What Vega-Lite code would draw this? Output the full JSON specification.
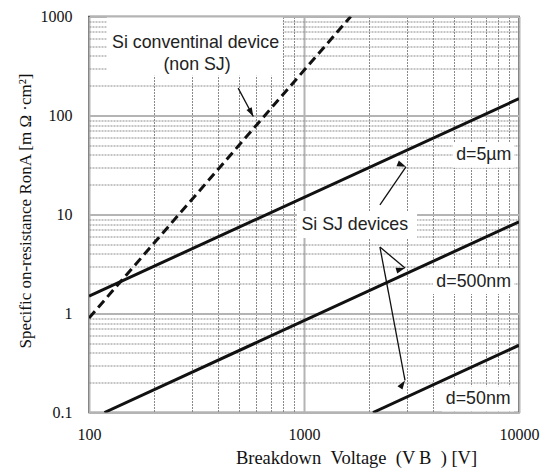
{
  "$schema": "https://vega.github.io/schema/vega-lite/v6.json",
  "width": 430,
  "height": 396,
  "autosize": "none",
  "padding": {"left": 89, "top": 16.5, "right": 23, "bottom": 58.5},
  "background": "#ffffff",
  "config": {
    "view": {"stroke": "#222222", "strokeWidth": 1.5},
    "axis": {
      "labelFont": "Liberation Serif",
      "labelFontSize": 16,
      "labelColor": "#111111",
      "titleFont": "Liberation Serif",
      "titleFontSize": 17,
      "titleFontWeight": "normal",
      "titleColor": "#111111",
      "domain": false,
      "ticks": false,
      "labelOverlap": false,
      "labelFlush": false,
      "gridColor": {"condition": {"test": "abs(log(datum.value)/LN10 - round(log(datum.value)/LN10)) < 1e-6", "value": "#b4b4b4"}, "value": "#8a8a8a"},
      "gridWidth": {"condition": {"test": "abs(log(datum.value)/LN10 - round(log(datum.value)/LN10)) < 1e-6", "value": 2}, "value": 1},
      "gridDash": {"condition": {"test": "abs(log(datum.value)/LN10 - round(log(datum.value)/LN10)) < 1e-6", "value": []}, "value": [2, 1]}
    }
  },
  "datasets": {
    "curves": [
      {"series": "non SJ", "V": 100, "R": 0.9},
      {"series": "non SJ", "V": 1650, "R": 1000},
      {"series": "5um", "V": 100, "R": 1.5},
      {"series": "5um", "V": 10000, "R": 148},
      {"series": "500nm", "V": 118, "R": 0.1},
      {"series": "500nm", "V": 10000, "R": 8.45},
      {"series": "50nm", "V": 2094, "R": 0.1},
      {"series": "50nm", "V": 10000, "R": 0.478}
    ],
    "boxes": [
      {"V1": 121, "V2": 798, "R1": 252, "R2": 975},
      {"V1": 4930, "V2": 9480, "R1": 29.6, "R2": 52.9},
      {"V1": 3980, "V2": 9480, "R1": 1.57, "R2": 2.81},
      {"V1": 4385, "V2": 9480, "R1": 0.1026, "R2": 0.184},
      {"V1": 927, "V2": 3356, "R1": 5.78, "R2": 10.85}
    ],
    "labels": [
      {"text": "Si conventinal device", "V": 313, "R": 544},
      {"text": "(non SJ)", "V": 318, "R": 326},
      {"text": "d=5µm", "V": 6855, "R": 40},
      {"text": "d=500nm", "V": 6155, "R": 2.09},
      {"text": "d=50nm", "V": 6460, "R": 0.138},
      {"text": "Si SJ devices", "V": 1722, "R": 7.83}
    ],
    "arrows": [
      {"id": "A", "V1": 494, "R1": 189, "V2": 581, "R2": 97.7},
      {"id": "B", "V1": 2255, "R1": 12.5, "V2": 2980, "R2": 30.3},
      {"id": "C", "V1": 2255, "R1": 4.69, "V2": 2950, "R2": 2.88},
      {"id": "D", "V1": 2255, "R1": 4.69, "V2": 2950, "R2": 0.211}
    ]
  },
  "layer": [
    {
      "data": {"name": "boxes"},
      "mark": {"type": "rect", "fill": "#ffffff", "stroke": null},
      "encoding": {
        "x": {
          "field": "V1", "type": "quantitative",
          "scale": {"type": "log", "domain": [100, 10000], "nice": false},
          "axis": {
            "values": [100, 200, 300, 400, 500, 600, 700, 800, 900, 1000, 2000, 3000, 4000, 5000, 6000, 7000, 8000, 9000, 10000],
            "labelExpr": "abs(log(datum.value)/LN10 - round(log(datum.value)/LN10)) < 1e-6 ? format(datum.value, '~g') : ''",
            "labelPadding": 14,
            "title": "Breakdown\u2002Voltage\u2002(V\u2009B\u2002) [V]",
            "titleFontSize": 18.5,
            "titleX": 267,
            "titleY": 45,
            "titleBaseline": "middle",
            "titleAlign": "center",
            "titleAnchor": null
          }
        },
        "x2": {"field": "V2"},
        "y": {
          "field": "R1", "type": "quantitative",
          "scale": {"type": "log", "domain": [0.1, 1000], "nice": false},
          "axis": {
            "values": [0.1, 0.2, 0.3, 0.4, 0.5, 0.6, 0.7, 0.8, 0.9, 1, 2, 3, 4, 5, 6, 7, 8, 9, 10, 20, 30, 40, 50, 60, 70, 80, 90, 100, 200, 300, 400, 500, 600, 700, 800, 900, 1000],
            "labelExpr": "abs(log(datum.value)/LN10 - round(log(datum.value)/LN10)) < 1e-6 ? format(datum.value, '~g') : ''",
            "labelPadding": 17,
            "title": "Specific on-resistance RonA [m Ω ·cm²]",
            "titleX": -64,
            "titleY": 194,
            "titleAngle": -90,
            "titleBaseline": "middle",
            "titleAlign": "center",
            "titleAnchor": null
          }
        },
        "y2": {"field": "R2"}
      }
    },
    {
      "data": {"name": "curves"},
      "transform": [{"filter": "datum.series != 'non SJ'"}],
      "mark": {"type": "line", "color": "#111111", "strokeWidth": 3, "clip": true},
      "encoding": {
        "x": {"field": "V", "type": "quantitative"},
        "y": {"field": "R", "type": "quantitative"},
        "detail": {"field": "series"}
      }
    },
    {
      "data": {"name": "curves"},
      "transform": [{"filter": "datum.series == 'non SJ'"}],
      "mark": {"type": "line", "color": "#111111", "strokeWidth": 3, "strokeDash": [9, 5], "clip": true},
      "encoding": {
        "x": {"field": "V", "type": "quantitative"},
        "y": {"field": "R", "type": "quantitative"}
      }
    },
    {
      "data": {"name": "arrows"},
      "mark": {"type": "rule", "color": "#111111", "strokeWidth": 1.3},
      "encoding": {
        "x": {"field": "V1", "type": "quantitative"},
        "y": {"field": "R1", "type": "quantitative"},
        "x2": {"field": "V2"},
        "y2": {"field": "R2"}
      }
    },
    {
      "data": {"name": "arrows"},
      "mark": {"type": "point", "filled": true, "color": "#111111", "opacity": 1, "size": 100, "shape": "M0,0L0.6,1.8L-0.6,1.8Z"},
      "encoding": {
        "x": {"field": "V2", "type": "quantitative"},
        "y": {"field": "R2", "type": "quantitative"},
        "angle": {"field": "id", "type": "nominal", "scale": {"domain": ["A", "B", "C", "D"], "range": [152, 34, 130, 169]}, "legend": null}
      }
    },
    {
      "data": {"name": "labels"},
      "mark": {"type": "text", "font": "Liberation Sans", "fontSize": 17.8, "color": "#222222", "align": "center", "baseline": "middle"},
      "encoding": {
        "x": {"field": "V", "type": "quantitative"},
        "y": {"field": "R", "type": "quantitative"},
        "text": {"field": "text"}
      }
    }
  ]
}
